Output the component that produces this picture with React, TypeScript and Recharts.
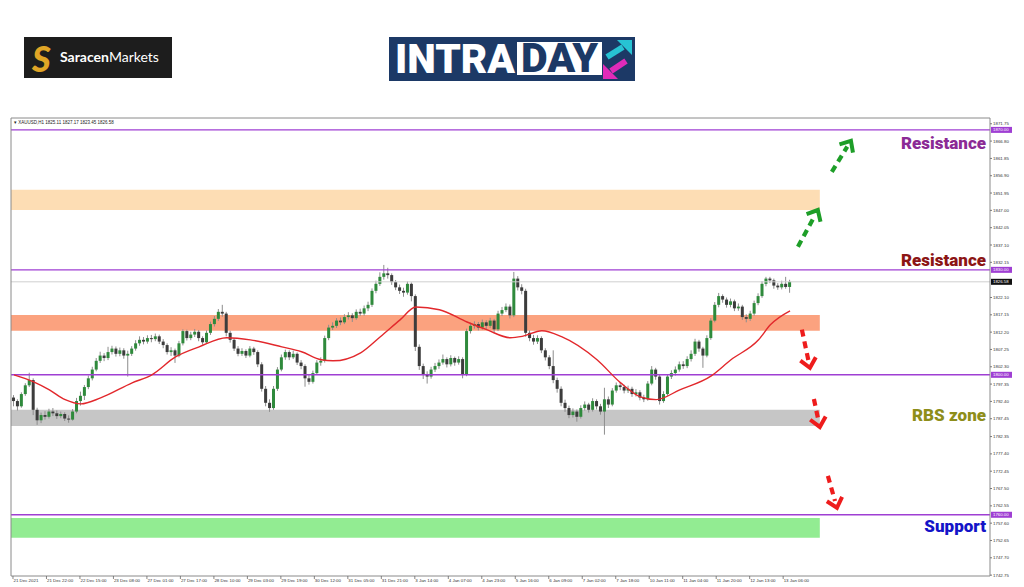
import React from "react";
import {
  ComposedChart,
  Bar,
  Line,
  XAxis,
  YAxis,
  ReferenceArea,
  ReferenceLine,
} from "recharts";

// XAUUSD, 2-hour candles: [open, high, low, close]
const ohlc: number[][] = [
  [1793.5, 1794.2, 1791.0, 1792.5], [1792.5, 1793.0, 1789.8, 1791.0], [1791.0, 1795.0, 1790.6, 1794.5],
  [1794.5, 1797.6, 1794.0, 1797.0], [1797.0, 1800.6, 1796.5, 1798.5], [1798.5, 1799.0, 1788.5, 1790.0],
  [1790.0, 1790.6, 1785.7, 1787.0], [1787.0, 1789.2, 1786.2, 1788.5], [1788.5, 1789.6, 1787.2, 1788.0],
  [1788.0, 1790.3, 1787.5, 1789.5], [1789.5, 1790.5, 1788.2, 1789.0], [1789.0, 1789.8, 1787.4, 1788.2],
  [1788.2, 1789.5, 1787.6, 1788.8], [1788.8, 1789.3, 1786.8, 1787.5], [1787.5, 1788.4, 1786.3, 1787.2],
  [1787.2, 1790.2, 1786.9, 1789.5], [1789.5, 1793.4, 1789.0, 1792.5], [1792.5, 1795.2, 1791.2, 1794.0],
  [1794.0, 1797.1, 1792.8, 1796.5], [1796.5, 1799.8, 1795.9, 1799.0], [1799.0, 1802.3, 1798.4, 1801.5],
  [1801.5, 1804.8, 1801.0, 1804.0], [1804.0, 1806.6, 1803.4, 1805.5], [1805.5, 1806.2, 1803.9, 1804.8],
  [1804.8, 1808.0, 1804.2, 1806.5], [1806.5, 1808.3, 1805.8, 1807.5], [1807.5, 1808.1, 1805.2, 1806.0],
  [1806.0, 1807.8, 1805.3, 1807.0], [1807.0, 1807.6, 1804.6, 1805.5], [1805.5, 1806.9, 1799.5, 1806.0],
  [1806.0, 1808.2, 1805.4, 1807.5], [1807.5, 1809.9, 1806.9, 1809.0], [1809.0, 1811.0, 1808.3, 1810.0],
  [1810.0, 1810.8, 1808.7, 1809.5], [1809.5, 1811.3, 1808.9, 1810.5], [1810.5, 1811.4, 1809.3, 1810.2],
  [1810.2, 1811.8, 1809.6, 1811.0], [1811.0, 1811.5, 1808.8, 1809.5], [1809.5, 1810.2, 1807.6, 1808.5],
  [1808.5, 1809.0, 1805.8, 1806.5], [1806.5, 1807.9, 1805.4, 1807.0], [1807.0, 1807.5, 1803.4, 1805.5],
  [1805.5, 1809.7, 1805.0, 1809.0], [1809.0, 1813.0, 1808.4, 1812.5], [1812.5, 1812.9, 1809.8, 1810.5],
  [1810.5, 1812.3, 1809.9, 1811.5], [1811.5, 1813.1, 1810.8, 1812.3], [1812.3, 1812.8, 1809.6, 1810.5],
  [1810.5, 1811.0, 1808.6, 1809.3], [1809.3, 1812.7, 1808.9, 1812.0], [1812.0, 1815.2, 1811.4, 1814.5],
  [1814.5, 1816.8, 1813.8, 1816.0], [1816.0, 1818.8, 1815.4, 1818.0], [1818.0, 1820.0, 1816.6, 1817.5],
  [1817.5, 1818.0, 1811.0, 1812.0], [1812.0, 1812.6, 1809.2, 1810.0], [1810.0, 1810.5, 1806.8, 1807.5],
  [1807.5, 1808.2, 1805.3, 1806.0], [1806.0, 1807.6, 1805.4, 1806.8], [1806.8, 1807.3, 1804.8, 1805.5],
  [1805.5, 1808.2, 1805.0, 1807.5], [1807.5, 1808.0, 1805.7, 1806.5], [1806.5, 1807.0, 1802.2, 1803.0],
  [1803.0, 1803.6, 1795.2, 1796.0], [1796.0, 1796.8, 1791.0, 1792.0], [1792.0, 1793.0, 1789.4, 1790.5],
  [1790.5, 1796.8, 1790.0, 1796.0], [1796.0, 1802.2, 1795.4, 1801.5], [1801.5, 1805.8, 1801.0, 1805.0],
  [1805.0, 1807.2, 1804.3, 1806.5], [1806.5, 1807.0, 1804.2, 1805.0], [1805.0, 1806.9, 1804.5, 1806.0],
  [1806.0, 1806.4, 1802.8, 1803.5], [1803.5, 1804.2, 1801.6, 1802.5], [1802.5, 1803.0, 1796.6, 1799.0],
  [1799.0, 1800.0, 1797.2, 1798.0], [1798.0, 1801.2, 1797.5, 1800.5], [1800.5, 1804.2, 1800.0, 1803.5],
  [1803.5, 1805.0, 1802.6, 1804.0], [1804.0, 1811.2, 1803.5, 1810.5], [1810.5, 1814.3, 1809.9, 1813.5],
  [1813.5, 1815.0, 1812.8, 1814.0], [1814.0, 1816.2, 1813.4, 1815.5], [1815.5, 1816.4, 1814.2, 1815.0],
  [1815.0, 1817.3, 1814.5, 1816.5], [1816.5, 1817.9, 1815.8, 1817.0], [1817.0, 1817.6, 1815.1, 1816.2],
  [1816.2, 1818.7, 1815.7, 1818.0], [1818.0, 1818.9, 1816.8, 1817.5], [1817.5, 1819.8, 1816.9, 1819.0],
  [1819.0, 1820.9, 1818.2, 1820.0], [1820.0, 1824.7, 1819.4, 1824.0], [1824.0, 1826.9, 1823.3, 1826.0],
  [1826.0, 1829.3, 1825.4, 1828.0], [1828.0, 1831.4, 1827.2, 1829.0], [1829.0, 1830.6, 1827.5, 1828.5],
  [1828.5, 1829.0, 1825.7, 1826.5], [1826.5, 1827.1, 1824.2, 1825.0], [1825.0, 1825.8, 1823.1, 1824.0],
  [1824.0, 1824.9, 1822.3, 1823.5], [1823.5, 1826.7, 1822.9, 1826.0], [1826.0, 1826.4, 1821.0, 1822.5],
  [1822.5, 1823.0, 1806.8, 1808.0], [1808.0, 1808.7, 1801.4, 1802.5], [1802.5, 1803.2, 1798.8, 1800.0],
  [1800.0, 1801.0, 1797.5, 1799.5], [1799.5, 1802.3, 1798.9, 1801.5], [1801.5, 1803.4, 1800.8, 1802.5],
  [1802.5, 1804.4, 1801.7, 1803.5], [1803.5, 1805.8, 1802.9, 1804.5], [1804.5, 1805.0, 1802.1, 1803.0],
  [1803.0, 1805.6, 1802.4, 1804.8], [1804.8, 1805.2, 1802.6, 1803.5], [1803.5, 1805.3, 1802.9, 1804.5],
  [1804.5, 1805.0, 1799.0, 1800.0], [1800.0, 1813.2, 1799.6, 1812.5], [1812.5, 1814.9, 1811.8, 1814.0],
  [1814.0, 1815.3, 1813.2, 1814.5], [1814.5, 1815.1, 1812.7, 1813.5], [1813.5, 1815.8, 1812.9, 1815.0],
  [1815.0, 1815.6, 1813.1, 1814.0], [1814.0, 1816.3, 1813.4, 1815.5], [1815.5, 1816.0, 1812.2, 1813.0],
  [1813.0, 1818.3, 1812.5, 1817.5], [1817.5, 1819.4, 1816.8, 1818.5], [1818.5, 1820.4, 1817.9, 1819.5],
  [1819.5, 1820.1, 1816.1, 1817.0], [1817.0, 1829.4, 1816.5, 1827.5], [1827.5, 1828.2, 1824.1, 1825.0],
  [1825.0, 1825.9, 1823.0, 1824.0], [1824.0, 1824.6, 1810.9, 1812.0], [1812.0, 1812.7, 1809.6, 1810.5],
  [1810.5, 1811.4, 1808.6, 1809.5], [1809.5, 1811.3, 1808.8, 1810.5], [1810.5, 1811.0, 1806.2, 1807.0],
  [1807.0, 1807.6, 1804.1, 1805.0], [1805.0, 1805.6, 1801.6, 1802.5], [1802.5, 1807.0, 1797.6, 1798.5],
  [1798.5, 1799.2, 1794.9, 1796.0], [1796.0, 1796.7, 1791.0, 1792.0], [1792.0, 1792.9, 1789.4, 1790.5],
  [1790.5, 1791.2, 1787.6, 1788.5], [1788.5, 1790.4, 1787.8, 1789.5], [1789.5, 1790.1, 1786.6, 1788.0],
  [1788.0, 1791.3, 1787.5, 1790.5], [1790.5, 1792.4, 1789.8, 1791.5], [1791.5, 1792.0, 1789.2, 1790.0],
  [1790.0, 1793.3, 1789.5, 1792.5], [1792.5, 1793.0, 1790.1, 1791.0], [1791.0, 1791.7, 1788.6, 1789.5],
  [1789.5, 1796.3, 1782.9, 1793.0], [1793.0, 1793.8, 1790.5, 1791.5], [1791.5, 1796.2, 1791.0, 1795.5],
  [1795.5, 1797.8, 1794.9, 1797.0], [1797.0, 1797.9, 1795.6, 1796.5], [1796.5, 1797.2, 1794.7, 1795.5],
  [1795.5, 1796.9, 1794.8, 1796.0], [1796.0, 1796.6, 1793.7, 1794.5], [1794.5, 1795.9, 1793.8, 1795.0],
  [1795.0, 1795.6, 1792.7, 1793.5], [1793.5, 1794.3, 1792.2, 1793.0], [1793.0, 1798.2, 1792.6, 1797.5],
  [1797.5, 1802.5, 1797.0, 1801.5], [1801.5, 1802.0, 1798.6, 1799.5], [1799.5, 1800.0, 1791.5, 1792.5],
  [1792.5, 1795.3, 1792.0, 1794.5], [1794.5, 1800.2, 1794.0, 1799.5], [1799.5, 1801.3, 1798.8, 1800.5],
  [1800.5, 1802.4, 1799.8, 1801.5], [1801.5, 1803.8, 1800.9, 1803.0], [1803.0, 1803.9, 1801.7, 1802.5],
  [1802.5, 1805.3, 1801.9, 1804.5], [1804.5, 1807.0, 1803.8, 1806.0], [1806.0, 1810.3, 1805.4, 1809.5],
  [1809.5, 1810.0, 1806.6, 1807.5], [1807.5, 1808.0, 1802.0, 1805.5], [1805.5, 1811.3, 1805.0, 1810.5],
  [1810.5, 1816.2, 1810.0, 1815.5], [1815.5, 1820.8, 1815.0, 1820.0], [1820.0, 1823.4, 1819.3, 1822.5],
  [1822.5, 1823.0, 1820.6, 1821.5], [1821.5, 1822.1, 1819.2, 1820.0], [1820.0, 1821.8, 1819.3, 1821.0],
  [1821.0, 1821.5, 1818.2, 1819.0], [1819.0, 1820.4, 1818.3, 1819.5], [1819.5, 1820.0, 1815.7, 1816.5],
  [1816.5, 1817.3, 1815.0, 1816.0], [1816.0, 1818.3, 1815.4, 1817.5], [1817.5, 1821.2, 1816.9, 1820.5],
  [1820.5, 1823.3, 1819.9, 1822.5], [1822.5, 1826.8, 1822.0, 1826.0], [1826.0, 1828.0, 1825.3, 1827.5],
  [1827.5, 1828.0, 1826.2, 1827.0], [1827.0, 1827.5, 1824.6, 1825.5], [1825.5, 1826.2, 1824.3, 1825.0],
  [1825.0, 1826.9, 1824.4, 1826.0], [1826.0, 1828.0, 1824.6, 1825.11], [1825.11, 1827.17, 1823.45, 1826.58],
];

// red moving average, read at these candle numbers
const maPoints: [number, number][] = [
  [0, 1800.0], [5, 1798.0], [9, 1795.7], [13, 1792.9], [17, 1791.7], [22, 1793.4], [30, 1797.7],
  [35, 1800.0], [41, 1805.1], [47, 1808.0], [54, 1810.6], [60, 1810.0], [68, 1808.0], [73, 1806.6],
  [78, 1804.3], [81, 1804.0], [88, 1806.3], [93, 1810.9], [98, 1815.7], [102, 1819.4], [108, 1818.6],
  [115, 1815.1], [120, 1812.9], [126, 1810.6], [129, 1811.0], [134, 1812.6], [139, 1810.9],
  [148, 1804.3], [154, 1797.7], [159, 1793.7], [163, 1792.9], [169, 1795.7], [177, 1799.7],
  [182, 1804.3], [189, 1810.0], [192, 1814.3], [197, 1818.3],
];

const timeLabels = [
  "21 Dec 2021", "21 Dec 22:00", "22 Dec 15:00", "23 Dec 08:00", "27 Dec 01:00", "27 Dec 17:00",
  "28 Dec 10:00", "29 Dec 03:00", "29 Dec 19:00", "30 Dec 12:00", "31 Dec 05:00", "31 Dec 21:00",
  "3 Jan 14:00", "4 Jan 07:00", "4 Jan 23:00", "5 Jan 16:00", "6 Jan 09:00", "7 Jan 02:00",
  "7 Jan 18:00", "10 Jan 11:00", "11 Jan 04:00", "11 Jan 20:00", "12 Jan 13:00", "13 Jan 06:00",
];

const priceTicks = [
  1871.75, 1866.8, 1861.85, 1856.9, 1851.95, 1847.0, 1842.05, 1837.1, 1832.15, 1822.1, 1817.15,
  1812.2, 1807.25, 1802.3, 1797.35, 1792.4, 1787.45, 1782.35, 1777.4, 1772.45, 1767.5, 1762.55,
  1757.6, 1752.65, 1747.7, 1742.75,
];

const levels = [1870, 1830, 1800, 1760];
const lastPrice = 1826.58;

// zones: [low, high]
const zoneBounds = [
  [1847.1, 1852.9],
  [1812.6, 1817.1],
  [1785.4, 1790.0],
  [1753.4, 1759.1],
];
const zoneEndHour = 409.6;

// dashed arrows: [hour, price] start -> tip
const upArrows = [
  [398.5, 1836.6, 408.6, 1847.1],
  [415.7, 1858.0, 425.4, 1866.9],
];
const downArrows = [
  [400.5, 1812.9, 404.6, 1802.0],
  [406.6, 1793.1, 409.6, 1785.1],
  [413.7, 1771.1, 418.3, 1762.0],
];

const ZONE_COLORS = ["#FDDDB4", "#FBA27F", "#C6C6C6", "#92EC92"];
const PURPLE = "#9F3FD3";

const maMap = new Map(maPoints);
const rows = ohlc.map(([o, h, l, c], i) => ({
  t: i * 2 + 0.5, // each candle spans two hourly slots
  o,
  h,
  l,
  c,
  range: [l, h],
  ma: maMap.has(i) ? maMap.get(i) : null,
}));

function Candle(props: any) {
  const { x, y, width, height, payload } = props;
  if (!payload) return null;
  const { o, h, l, c } = payload;
  const top = Math.min(y, y + height);
  const hh = Math.abs(height);
  const cx = x + width / 2;
  const k = h - l > 0 ? hh / (h - l) : 0;
  const bTop = top + (h - Math.max(o, c)) * k;
  const bBot = top + (h - Math.min(o, c)) * k;
  const up = c >= o;
  return (
    <g>
      <line x1={cx} x2={cx} y1={top} y2={top + hh} stroke="#8d8d8d" strokeWidth={1} />
      <rect
        x={cx - 1.5}
        y={bTop}
        width={3}
        height={Math.max(bBot - bTop, 0.8)}
        fill={up ? "#2F8A3C" : "#3c3c3c"}
      />
    </g>
  );
}

function arrowShape(color: string) {
  return (p: any) => {
    const { x1, y1, x2, y2 } = p;
    if ([x1, y1, x2, y2].some((v) => typeof v !== "number")) return null;
    const ang = Math.atan2(y2 - y1, x2 - x1);
    const L = 12;
    const s = 0.72;
    const ax = x2 - L * Math.cos(ang - s);
    const ay = y2 - L * Math.sin(ang - s);
    const bx = x2 - L * Math.cos(ang + s);
    const by = y2 - L * Math.sin(ang + s);
    const ex = x2 - 7 * Math.cos(ang);
    const ey = y2 - 7 * Math.sin(ang);
    return (
      <g>
        <line x1={x1} y1={y1} x2={ex} y2={ey} stroke={color} strokeWidth={4.2} strokeDasharray="7 5" />
        <polyline
          points={`${ax},${ay} ${x2},${y2} ${bx},${by}`}
          fill="none"
          stroke={color}
          strokeWidth={4}
          strokeLinejoin="miter"
        />
      </g>
    );
  };
}

function axisBox(text: string, bg: string) {
  return (props: any) => {
    const vb = props.viewBox || {};
    const x = (vb.x || 0) + (vb.width || 0);
    const y = vb.y || 0;
    return (
      <g>
        <rect x={x + 1} y={y - 3} width={21} height={6} fill={bg} />
        <text x={x + 3} y={y + 1.6} fontSize={4.3} fill="#fff" fontFamily="Liberation Sans">
          {text}
        </text>
      </g>
    );
  };
}

function TimeTick(props: any) {
  const { x, y, payload } = props;
  const label = timeLabels[Math.round(payload.value / 17)];
  return (
    <g>
      <line x1={x} x2={x} y1={y - 1} y2={y + 2} stroke="#666" strokeWidth={0.8} />
      <text x={x + 0.5} y={y + 5.2} fontSize={4.4} fill="#333" fontFamily="Liberation Sans">
        {label}
      </text>
    </g>
  );
}

const xTicks = timeLabels.map((_, k) => k * 17);

export default function App() {
  return (
    <div style={{ position: "relative", width: 1024, height: 587, background: "#fff" }}>
      <style>{"body{margin:0}"}</style>
      <ComposedChart
        width={1024}
        height={587}
        data={rows}
        margin={{ top: 118, right: 0, left: 11, bottom: 0 }}
      >
        {zoneBounds.map(([lo, hi], i) => (
          <ReferenceArea
            key={"z" + i}
            x1={-1}
            x2={zoneEndHour}
            y1={lo}
            y2={hi}
            fill={ZONE_COLORS[i]}
            fillOpacity={1}
            stroke="none"
            ifOverflow="visible"
          />
        ))}
        <XAxis
          dataKey="t"
          type="number"
          domain={[-1, 496]}
          ticks={xTicks}
          interval={0}
          height={11}
          tickSize={0}
          tickMargin={1}
          tickLine={false}
          axisLine={{ stroke: "#8a8a8a" }}
          tick={<TimeTick />}
          allowDataOverflow
        />
        <YAxis
          orientation="right"
          type="number"
          domain={[1742.5, 1873.4]}
          ticks={priceTicks}
          interval={0}
          width={34}
          tickSize={2}
          tickMargin={1}
          axisLine={{ stroke: "#8a8a8a" }}
          tickLine={{ stroke: "#777" }}
          tick={{ fontSize: 4.4, fill: "#333", fontFamily: "Liberation Sans" }}
          tickFormatter={(v: number) => v.toFixed(2)}
          allowDataOverflow
        />
        <ReferenceLine
          y={lastPrice}
          stroke="#cfcfcf"
          strokeWidth={1}
          label={axisBox(lastPrice.toFixed(2), "#111")}
        />
        {levels.map((lv) => (
          <ReferenceLine
            key={"l" + lv}
            y={lv}
            stroke={PURPLE}
            strokeWidth={1.4}
            label={axisBox(lv.toFixed(2), PURPLE)}
          />
        ))}
        <Bar
          dataKey="range"
          barSize={3}
          shape={<Candle />}
          isAnimationActive={false}
        />
        <Line
          dataKey="ma"
          type="monotone"
          connectNulls
          stroke="#E2282C"
          strokeWidth={1.4}
          dot={false}
          activeDot={false}
          isAnimationActive={false}
        />
        {upArrows.map(([a, b, c, d], i) => (
          <ReferenceLine
            key={"u" + i}
            segment={[{ x: a, y: b }, { x: c, y: d }]}
            shape={arrowShape("#1E9E28")}
            ifOverflow="visible"
          />
        ))}
        {downArrows.map(([a, b, c, d], i) => (
          <ReferenceLine
            key={"d" + i}
            segment={[{ x: a, y: b }, { x: c, y: d }]}
            shape={arrowShape("#EE1C1C")}
            ifOverflow="visible"
          />
        ))}
      </ComposedChart>

      <svg
        width={1024}
        height={587}
        style={{ position: "absolute", left: 0, top: 0, pointerEvents: "none" }}
      >
        {/* chart frame */}
        <line x1={11} y1={118} x2={990} y2={118} stroke="#8a8a8a" strokeWidth={1} />
        <line x1={11} y1={118} x2={11} y2={576} stroke="#8a8a8a" strokeWidth={1} />
        <text x={14} y={124} fontSize={4.5} fill="#222" fontFamily="Liberation Sans">
          ▾ XAUUSD,H1  1825.11 1827.17 1823.45 1826.58
        </text>

        {/* Saracen Markets logo */}
        <rect x={24} y={37} width={148} height={41} fill="#1d1d1d" />
        <text x={32} y={72} fontSize={36} fontWeight={900} fill="#E0A526" fontFamily="Lato" fontStyle="italic">
          S
        </text>
        <text x={60} y={62} fontSize={14} fill="#fff" fontFamily="Lato">
          <tspan fontWeight={700}>Saracen</tspan>
          <tspan fontWeight={400}>Markets</tspan>
        </text>

        {/* INTRADAY logo */}
        <rect x={389} y={37} width={246} height={44} fill="#1C3966" />
        <text
          x={395}
          y={73}
          fontSize={40}
          fontWeight={900}
          fill="#fff"
          fontFamily="Roboto"
          textLength={120}
          lengthAdjust="spacingAndGlyphs"
        >
          INTRA
        </text>
        <rect x={517} y={42} width={85} height={33} fill="#fff" />
        <text
          x={521}
          y={72}
          fontSize={40}
          fontWeight={900}
          fill="#1C3966"
          fontFamily="Roboto"
          textLength={77}
          lengthAdjust="spacingAndGlyphs"
        >
          DAY
        </text>
        <line x1={607} y1={57} x2={623} y2={47} stroke="#27C3D3" strokeWidth={6} />
        <polygon points="617,40 632,40 632,55" fill="#27C3D3" />
        <line x1={626} y1={61} x2={611} y2={71} stroke="#E02BB8" strokeWidth={6} />
        <polygon points="603,64 603,79 618,79" fill="#E02BB8" />

        {/* annotations */}
        <g fontFamily="Roboto" fontWeight={900} fontSize={17} textAnchor="end">
          <text x={986} y={148.5} fill="#8B2A95">Resistance</text>
          <text x={986} y={265.5} fill="#8C1515">Resistance</text>
          <text x={986} y={420.5} fill="#8E8E1A">RBS zone</text>
          <text x={986} y={531.5} fill="#1414C8">Support</text>
        </g>
      </svg>
    </div>
  );
}
